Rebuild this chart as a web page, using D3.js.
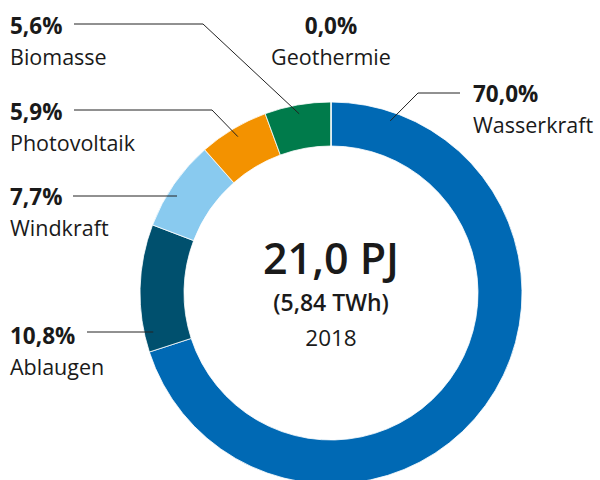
<!DOCTYPE HTML>
<html>
<head>
<meta charset="utf-8">
<title>Erneuerbare Stromerzeugung 2018</title>
<style>
	body { margin: 0; background: #fff; }
	text { font-family: "Open Sans", Lato, sans-serif; fill: #1a1a1a; }
</style>
</head>

<body>
<div id="chart"></div>

	<script src="https://cdnjs.cloudflare.com/ajax/libs/d3/7.8.5/d3.min.js" charset="utf-8"></script>
	<script>
	// data
	var sources = ["Wasserkraft", "Ablaugen", "Windkraft", "Photovoltaik", "Biomasse", "Geothermie"];
	var shares = [70.0, 10.8, 7.7, 5.9, 5.6, 0.0];
	var colors = ["#0069b4", "#00506e", "#89caef", "#f39200", "#007b4b", "#7a7a7a"];
	var totalText = ["21,0 PJ", "(5,84 TWh)", "2018"];

	var width = 600, height = 480;
	var cx = 331, cy = 293, rOuter = 191, rInner = 147;

	var svg = d3.select("#chart")
				.append("svg")
				.attr("width", width)
				.attr("height", height);

	var pie = d3.pie()
				.sort(null)
				.value(function(d){ return d; });

	var arc = d3.arc()
				.innerRadius(rInner)
				.outerRadius(rOuter);

	var arcs = pie(shares);

	var g = svg.append("g")
				.attr("transform", "translate(" + cx + "," + cy + ")");

	g.selectAll("path")
		.data(arcs)
		.enter()
		.append("path")
		.attr("d", arc)
		.attr("fill", function(d, i){ return colors[i]; })
		.attr("stroke", "#fff")
		.attr("stroke-width", 0.8);

	// label layout: text x, value baseline y, where the leader line goes
	var fmt = function(v){ return d3.format(".1f")(v).replace(".", ",") + "%"; };
	var labels = [
		{ i: 0, x: 473, y: 102, anchor: "start", line: "diag", lx: 460, ly: 93, kx: 418, angle: 19 },
		{ i: 1, x: 10, y: 344, anchor: "start", line: "horiz", lx: 87, ly: 332 },
		{ i: 2, x: 10, y: 205, anchor: "start", line: "horiz", lx: 73, ly: 196 },
		{ i: 3, x: 10, y: 120, anchor: "start", line: "diag", lx: 74, ly: 110, kx: 212, angle: null },
		{ i: 4, x: 10, y: 34, anchor: "start", line: "diag", lx: 74, ly: 24, kx: 203, angle: null },
		{ i: 5, x: 331, y: 34, anchor: "middle", line: "none" }
	];

	var rLine = 182;
	function pointAt(deg){
		var a = deg * Math.PI / 180;
		return [cx + rLine * Math.sin(a), cy - rLine * Math.cos(a)];
	}

	labels.forEach(function(l){
		var d = arcs[l.i];
		var t = svg.append("text")
					.attr("x", l.x)
					.attr("y", l.y)
					.attr("text-anchor", l.anchor);
		t.append("tspan")
			.attr("font-weight", 700)
			.attr("font-size", 22.5)
			.text(fmt(shares[l.i]));
		t.append("tspan")
			.attr("x", l.x)
			.attr("dy", 31)
			.attr("font-size", 21.5)
			.text(sources[l.i]);

		var pts;
		if (l.line == "horiz") {
			var dy = l.ly - cy;
			pts = [[l.lx, l.ly], [cx - Math.sqrt(rLine*rLine - dy*dy), l.ly]];
		} else if (l.line == "diag") {
			var deg = l.angle != null ? l.angle : (d.startAngle + d.endAngle) / 2 * 180 / Math.PI;
			pts = [[l.lx, l.ly], [l.kx, l.ly], pointAt(deg)];
		}
		if (pts) {
			svg.append("path")
				.attr("d", d3.line()(pts))
				.attr("fill", "none")
				.attr("stroke", "#222")
				.attr("stroke-width", 1);
		}
	});

	// centre text
	svg.append("text")
		.attr("x", cx).attr("y", 274)
		.attr("text-anchor", "middle")
		.attr("font-size", 43)
		.attr("font-weight", 600)
		.text(totalText[0]);
	svg.append("text")
		.attr("x", cx).attr("y", 311)
		.attr("text-anchor", "middle")
		.attr("font-size", 23)
		.attr("font-weight", 600)
		.text(totalText[1]);
	svg.append("text")
		.attr("x", cx).attr("y", 346)
		.attr("text-anchor", "middle")
		.attr("font-size", 22.5)
		.text(totalText[2]);
	</script>
</body>
</html>
